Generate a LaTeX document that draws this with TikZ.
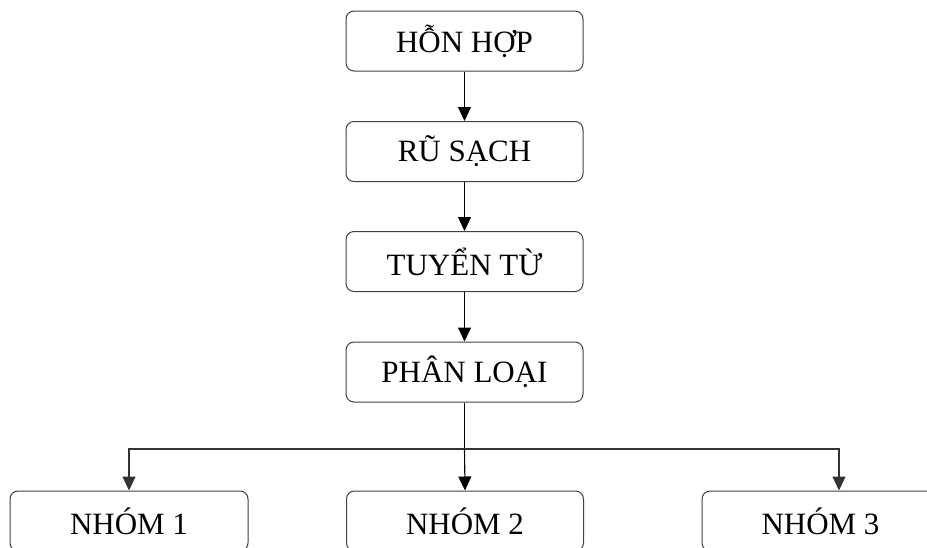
\documentclass[tikz,border=0pt]{standalone}
\usepackage{fontspec}
\setmainfont{Liberation Serif}
\usetikzlibrary{arrows.meta}
\begin{document}
\begin{tikzpicture}[x=1pt,y=-1pt,
  box/.style={draw=black!75, rounded corners=8pt, minimum width=237pt, minimum height=60pt,
    inner sep=0pt, line width=1pt, font=\fontsize{31}{35}\selectfont},
  arr/.style={-{Triangle[length=14pt,width=13pt]}, line width=1.1pt},
  lnk/.style={line width=1.1pt}]
\useasboundingbox (0,0) rectangle (927,547);
\clip (0,0) rectangle (927,547);
\node[box] (p1) at (464.5,41) {HỖN HỢP};
\node[box] (p2) at (464.5,151.5) {RŨ SẠCH};
\node[box] (p3) at (464.5,261.5) {TUYỂN TỪ};
\node[box] (p4) at (464.5,372) {PHÂN LOẠI};
\node[box, minimum width=238pt] (n1) at (129,521) {NHÓM 1};
\node[box] (n2) at (465,521) {NHÓM 2};
\node[box] (n3) at (820.5,521) {NHÓM 3};
\draw[arr] (p1) -- (p2);
\draw[arr] (p2) -- (p3);
\draw[arr] (p3) -- (p4);
\coordinate (j) at (464.5,449);
\coordinate (r) at (839,449);
\draw[lnk] (p4.south) -- (j);
\draw[arr, draw=black!80] (j) -| (n1.north);
\draw[arr] (j) -- (n2.north);
\draw[arr, draw=black!80] (j) -- (r) -- (r |- n3.north);
\end{tikzpicture}
\end{document}
